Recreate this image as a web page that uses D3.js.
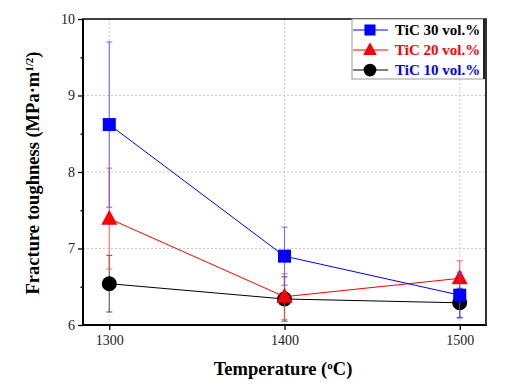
<!DOCTYPE html>
<html><head><meta charset="utf-8">
<script src="https://cdn.jsdelivr.net/npm/d3@7"></script>
<style>body{margin:0;background:#fff}svg{display:block}</style>
</head><body>
<svg id="c" width="509" height="387"></svg>
<script>
const temps = [1300, 1400, 1500];
const tic30 = [8.62, 6.90, 6.39];
const tic30Err = [1.08, 0.38, 0.30];
const tic20 = [7.39, 6.37, 6.61];
const tic20Err = [0.66, 0.30, 0.23];
const tic10 = [6.54, 6.34, 6.29];
const tic10Err = [0.37, 0.29, 0.19];
const yTicks = [6, 7, 8, 9, 10];
const xTicks = [1300, 1400, 1500];
const seriesNames = ["TiC 30 vol.%", "TiC 20 vol.%", "TiC 10 vol.%"];

const svg = d3.select("#c");
const L = 83, R = 486, T = 19, B = 325;
const x = d3.scaleLinear().domain([1285, 1515]).range([L, R]);
const y = d3.scaleLinear().domain([6, 10]).range([B, T]);
const serif = "'Liberation Serif','Times New Roman',serif";

// grid
const g = svg.append("g");
g.selectAll(".gh").data([7, 8, 9]).join("line")
  .attr("x1", L).attr("x2", R).attr("y1", d => y(d)).attr("y2", d => y(d))
  .attr("stroke", "#c8c8c8").attr("stroke-dasharray", "2,2").attr("stroke-width", 1);
g.selectAll(".gv").data(xTicks).join("line")
  .attr("y1", T).attr("y2", B).attr("x1", d => x(d)).attr("x2", d => x(d))
  .attr("stroke", "#c8c8c8").attr("stroke-dasharray", "2,2").attr("stroke-width", 1);

// axes
const ya = svg.append("g").attr("transform", `translate(${L},0)`)
  .call(d3.axisLeft(y).tickValues(yTicks).tickSize(5).tickPadding(3).tickFormat(d3.format("d")));
const yMinor = svg.append("g").attr("transform", `translate(${L},0)`)
  .call(d3.axisLeft(y).tickValues([6.5, 7.5, 8.5, 9.5]).tickSize(2.5).tickFormat(""));
const xa = svg.append("g").attr("transform", `translate(0,${B})`)
  .call(d3.axisBottom(x).tickValues(xTicks).tickSize(5).tickPadding(4).tickFormat(d3.format("d")));
[ya, xa, yMinor].forEach(a => {
  a.select(".domain").remove();
  a.selectAll("text").attr("font-family", serif).attr("font-size", 14).attr("fill", "#222");
  a.selectAll("line").attr("stroke", "#000").attr("stroke-width", 1.3);
});
xa.selectAll("text").attr("dy", "0.8em");

// frame
svg.append("rect").attr("x", L).attr("y", T).attr("width", R - L).attr("height", B - T)
  .attr("fill", "none").attr("stroke", "#000").attr("stroke-width", 1.5);
svg.append("line").attr("x1", L).attr("x2", L).attr("y1", T).attr("y2", B + 1).attr("stroke", "#000").attr("stroke-width", 2);
svg.append("line").attr("x1", L - 1).attr("x2", R + 1).attr("y1", B).attr("y2", B).attr("stroke", "#000").attr("stroke-width", 2);
svg.append("line").attr("x1", R).attr("x2", R).attr("y1", T).attr("y2", B).attr("stroke", "#333").attr("stroke-width", 2);

const series = [
  {vals: tic30, err: tic30Err, color: "#0000ff", errColor: "rgba(80,80,255,0.75)", shape: "square"},
  {vals: tic20, err: tic20Err, color: "#ff0000", errColor: "rgba(255,80,80,0.75)", shape: "triangle"},
  {vals: tic10, err: tic10Err, color: "#000000", errColor: "rgba(60,60,60,0.75)", shape: "circle"}
];

function marker(sel, shape, color) {
  if (shape === "square") sel.append("rect").attr("x", -6.5).attr("y", -6.5).attr("width", 13).attr("height", 13).attr("fill", color);
  else if (shape === "triangle") sel.append("path").attr("d", "M0,-9L8,6L-8,6Z").attr("fill", color);
  else sel.append("circle").attr("r", 7.5).attr("fill", color);
}

const order = [2, 1, 0];
order.forEach(i => {
  const s = series[i];
  const sg = svg.append("g");
  const pts = temps.map((t, j) => ({t, v: s.vals[j], e: s.err[j]}));
  pts.forEach(p => {
    sg.append("line").attr("x1", x(p.t)).attr("x2", x(p.t)).attr("y1", y(p.v - p.e)).attr("y2", y(p.v + p.e))
      .attr("stroke", s.errColor).attr("stroke-width", 1.2);
    [p.v - p.e, p.v + p.e].forEach(v => sg.append("line").attr("x1", x(p.t) - 3).attr("x2", x(p.t) + 3)
      .attr("y1", y(v)).attr("y2", y(v)).attr("stroke", s.errColor).attr("stroke-width", 1.2));
  });
  sg.append("path").datum(pts)
    .attr("d", d3.line().x(p => x(p.t)).y(p => y(p.v)))
    .attr("fill", "none").attr("stroke", s.color).attr("stroke-width", 1);
  pts.forEach(p => marker(sg.append("g").attr("transform", `translate(${x(p.t)},${y(p.v)})`), s.shape, s.color));
});

// legend
const lg = svg.append("g");
lg.append("rect").attr("x", 352).attr("y", 19).attr("width", 132).attr("height", 60)
  .attr("fill", "#fff").attr("stroke", "#999").attr("stroke-width", 1);
lg.append("line").attr("x1", 484).attr("x2", 484).attr("y1", 19).attr("y2", 79).attr("stroke", "#222").attr("stroke-width", 2);
const textColors = ["#000", "#ff0000", "#0000ff"];
const rowsY = [30, 50, 70];
series.forEach((s, i) => {
  const ry = rowsY[i];
  lg.append("line").attr("x1", 353).attr("x2", 388).attr("y1", ry).attr("y2", ry).attr("stroke", s.color).attr("stroke-width", 1);
  const m = lg.append("g").attr("transform", `translate(370,${ry}) scale(0.85)`);
  marker(m, s.shape, s.color);
  lg.append("text").attr("x", 395).attr("y", ry).attr("dy", "0.35em")
    .attr("font-family", serif).attr("font-weight", "bold").attr("font-size", 15)
    .attr("fill", textColors[i]).text(seriesNames[i]);
});

// axis titles
const xt = svg.append("text").attr("x", 283).attr("y", 375).attr("text-anchor", "middle")
  .attr("font-family", serif).attr("font-weight", "bold").attr("font-size", 18.5);
xt.append("tspan").text("Temperature (");
xt.append("tspan").text("o").attr("baseline-shift", "super").attr("font-size", 11);
xt.append("tspan").text("C)");

const yt = svg.append("text").attr("transform", "translate(39,173) rotate(-90)").attr("text-anchor", "middle")
  .attr("font-family", serif).attr("font-weight", "bold").attr("font-size", 18.5);
yt.append("tspan").text("Fracture toughness (MPa·m");
yt.append("tspan").text("1/2").attr("baseline-shift", "super").attr("font-size", 11);
yt.append("tspan").text(")");
</script>
</body></html>
